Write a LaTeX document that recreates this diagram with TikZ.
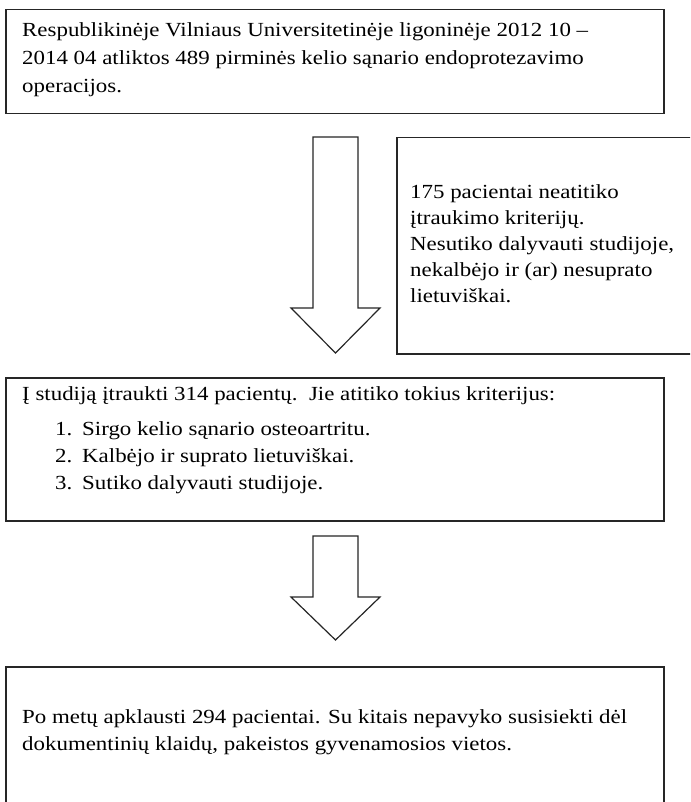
\documentclass[tikz,border=0pt]{standalone}
\usepackage{fontspec}
\setmainfont{Liberation Serif}[FakeStretch=1.145]
\usetikzlibrary{calc}
\tikzset{
  box/.style={draw=black!85, line width=1.5pt, rectangle, inner sep=0pt, anchor=north west},
  txt/.style={inner sep=0pt, anchor=base west, align=left, text=black, font=\fontsize{20}{28}\selectfont},
  blockarrow/.style={draw=black!85, line width=1.2pt, fill=white, line join=miter}
}
\begin{document}
\begin{tikzpicture}[x=1pt,y=-1pt]
\clip (0,0) rectangle (690,802);
\fill[white] (0,0) rectangle (690,802);
% boxes
\node[box, minimum width=658pt, minimum height=104pt] (b1) at (5,9) {};
\node[box, minimum width=310pt, minimum height=216pt] (b2) at (396,137) {};
\node[box, minimum width=658pt, minimum height=143pt] (b3) at (5,377) {};
\node[box, minimum width=658pt, minimum height=160pt] (b4) at (5,666) {};
% texts (anchor = baseline of the last line)
\node[txt] (t1) at (22,93) {Respublikinėje Vilniaus Universitetinėje ligoninėje 2012 10 –\\2014 04 atliktos 489 pirminės kelio sąnario endoprotezavimo\\operacijos.};
\node[txt, font=\fontsize{20}{26}\selectfont] (t2) at (410,302) {175 pacientai neatitiko\\įtraukimo kriterijų.\\Nesutiko dalyvauti studijoje,\\nekalbėjo ir (ar) nesuprato\\lietuviškai.};
\node[txt] (t3) at (22,400) {Į studiją įtraukti 314 pacientų.\ \ Jie atitiko tokius kriterijus:};
\node[txt] (n1) at (55,435) {1.};
\node[txt] (i1) at (82,435) {Sirgo kelio sąnario osteoartritu.};
\node[txt] (n2) at (55,462) {2.};
\node[txt] (i2) at (82,462) {Kalbėjo ir suprato lietuviškai.};
\node[txt] (n3) at (55,489) {3.};
\node[txt] (i3) at (82,489) {Sutiko dalyvauti studijoje.};
\node[txt, font=\fontsize{20}{27}\selectfont] (t4) at (22,750) {Po metų apklausti 294 pacientai. Su kitais nepavyko susisiekti dėl\\dokumentinių klaidų, pakeistos gyvenamosios vietos.};
% block arrows
\coordinate (a1s) at (335.5,137);
\coordinate (a1e) at (335.5,353);
\coordinate (a2s) at (335.5,536);
\coordinate (a2e) at (335.5,640);
\draw[blockarrow] ($(a1s)+(-22.5,0)$) -- ($(a1s)+(22.5,0)$) -- ($(a1e)+(22.5,-45)$) -- ($(a1e)+(44.5,-45)$) -- (a1e) -- ($(a1e)+(-44.5,-45)$) -- ($(a1e)+(-22.5,-45)$) -- cycle;
\draw[blockarrow] ($(a2s)+(-22.5,0)$) -- ($(a2s)+(22.5,0)$) -- ($(a2e)+(22.5,-43)$) -- ($(a2e)+(44.5,-43)$) -- (a2e) -- ($(a2e)+(-44.5,-43)$) -- ($(a2e)+(-22.5,-43)$) -- cycle;
\end{tikzpicture}
\end{document}
